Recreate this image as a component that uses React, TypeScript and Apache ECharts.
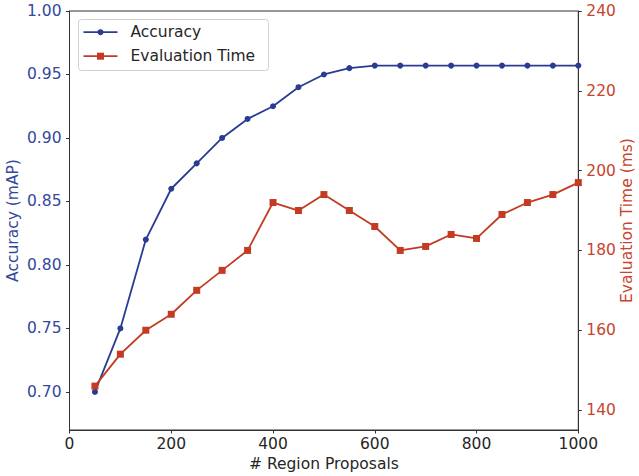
import React, { useEffect, useRef } from "react";
import * as echarts from "echarts";

const proposals = [50, 100, 150, 200, 250, 300, 350, 400, 450, 500, 550, 600, 650, 700, 750, 800, 850, 900, 950, 1000];
const accuracy = [0.70, 0.75, 0.82, 0.86, 0.88, 0.90, 0.915, 0.925, 0.94, 0.95, 0.955, 0.957, 0.957, 0.957, 0.957, 0.957, 0.957, 0.957, 0.957, 0.957];
const evalTime = [146, 154, 160, 164, 170, 175, 180, 192, 190, 194, 190, 186, 180, 181, 184, 183, 189, 192, 194, 197];
const accTicks = [0.70, 0.75, 0.80, 0.85, 0.90, 0.95, 1.00];
const timeTicks = [140, 160, 180, 200, 220, 240];
const seriesNames = ["Accuracy", "Evaluation Time"];

const BLUE = "#283c91";
const BLUE_TXT = "#34489c";
const RED = "#c23b22";
const RED_TXT = "#c8442e";
const FONT = "DejaVu Sans";
const FS = 15.5;

export default function App() {
  const ref = useRef<HTMLDivElement>(null);
  useEffect(() => {
    document.body.style.margin = "0";
    const chart = echarts.init(ref.current!, null, { renderer: "svg" });
    const axisLine = { show: true, lineStyle: { color: "#333", width: 1 } };
    const axisTick = { show: true, length: 3.5, lineStyle: { color: "#333", width: 1 } };
    chart.setOption({
      animation: false,
      textStyle: { fontFamily: FONT },
      grid: {
        left: 69.5,
        right: 60.7,
        top: 11,
        bottom: 46,
        containLabel: false,
        outerBoundsMode: "none",
        show: true,
        borderColor: "#333",
        borderWidth: 1,
      },
      xAxis: {
        type: "value",
        min: 0,
        max: 1000,
        interval: 200,
        name: "# Region Proposals",
        nameLocation: "middle",
        nameGap: 26,
        nameMoveOverlap: false,
        nameTextStyle: { fontFamily: FONT, fontSize: FS, color: "#262626" },
        axisLine,
        axisTick,
        splitLine: { show: false },
        axisLabel: { fontFamily: FONT, fontSize: FS, color: "#262626", margin: 6, formatter: (v: number) => String(v) },
      },
      yAxis: [
        {
          type: "value",
          min: 0.67,
          max: 1.0,
          name: "Accuracy (mAP)",
          nameLocation: "middle",
          nameRotate: 90,
          nameGap: 49,
          nameMoveOverlap: false,
          nameTextStyle: { fontFamily: FONT, fontSize: FS, color: BLUE_TXT },
          axisLine,
          axisTick: { ...axisTick, customValues: accTicks },
          splitLine: { show: false },
          axisLabel: {
            customValues: accTicks,
            fontFamily: FONT,
            fontSize: FS,
            color: BLUE_TXT,
            margin: 8,
            formatter: (v: number) => v.toFixed(2),
          },
        },
        {
          type: "value",
          position: "right",
          min: 135,
          max: 240,
          name: "Evaluation Time (ms)",
          nameLocation: "middle",
          nameRotate: 90,
          nameGap: 41,
          nameMoveOverlap: false,
          nameTextStyle: { fontFamily: FONT, fontSize: FS, color: RED_TXT },
          axisLine,
          axisTick: { ...axisTick, customValues: timeTicks },
          splitLine: { show: false },
          axisLabel: { customValues: timeTicks, fontFamily: FONT, fontSize: FS, color: RED_TXT, margin: 8 },
        },
      ],
      series: [
        {
          name: seriesNames[0],
          type: "line",
          yAxisIndex: 0,
          data: proposals.map((x, i) => [x, accuracy[i]]),
          symbol: "circle",
          symbolSize: 6,
          lineStyle: { color: BLUE, width: 1.8 },
          itemStyle: { color: BLUE },
        },
        {
          name: seriesNames[1],
          type: "line",
          yAxisIndex: 1,
          data: proposals.map((x, i) => [x, evalTime[i]]),
          symbol: "rect",
          symbolSize: 7,
          lineStyle: { color: RED, width: 1.8 },
          itemStyle: { color: RED },
        },
      ],
      graphic: [
        {
          type: "group",
          left: 78,
          top: 19,
          z: 100,
          children: [
            { type: "rect", shape: { x: 0, y: 0, width: 190, height: 51, r: 3 }, style: { fill: "rgba(255,255,255,0.85)", stroke: "#d0d0d0", lineWidth: 1 } },
            { type: "line", shape: { x1: 5, y1: 12.7, x2: 39, y2: 12.7 }, style: { stroke: BLUE, lineWidth: 1.8 } },
            { type: "circle", shape: { cx: 22, cy: 12.7, r: 3 }, style: { fill: BLUE } },
            { type: "text", x: 52, y: 12.7, style: { text: seriesNames[0], fontFamily: FONT, fontSize: FS, fill: "#262626", verticalAlign: "middle" } },
            { type: "line", shape: { x1: 5, y1: 36.7, x2: 39, y2: 36.7 }, style: { stroke: RED, lineWidth: 1.8 } },
            { type: "rect", shape: { x: 18.5, y: 33.2, width: 7, height: 7 }, style: { fill: RED } },
            { type: "text", x: 52, y: 36.7, style: { text: seriesNames[1], fontFamily: FONT, fontSize: FS, fill: "#262626", verticalAlign: "middle" } },
          ],
        },
      ],
    });
    return () => chart.dispose();
  }, []);
  return <div ref={ref} style={{ width: 639, height: 476 }} />;
}
